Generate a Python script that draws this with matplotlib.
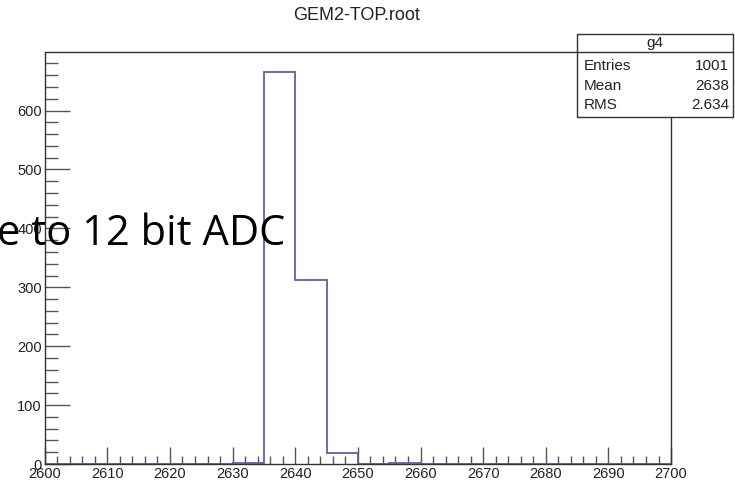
import numpy as np
import matplotlib.pyplot as plt
from matplotlib.patches import Rectangle
from matplotlib.ticker import MultipleLocator

# histogram g4, 5-unit bins between 2630 and 2660
bin_edges = [2630, 2635, 2640, 2645, 2650, 2655, 2660]
counts = [2, 666, 313, 19, 0, 1]

stat_names = ['Entries', 'Mean', 'RMS']
stat_values = ['1001', '2638', '2.634']

root_font = ['Liberation Sans Narrow', 'Liberation Sans', 'DejaVu Sans']
line_col = '#5f5fa8'

fig = plt.figure(figsize=(7.35, 4.82), dpi=100)
ax = fig.add_axes([0.0608, 0.0373, 0.913 - 0.0608, 0.892 - 0.0373])

ax.stairs(counts, bin_edges, color=line_col, linewidth=1.3, zorder=2)
# the rest of the range is empty
ax.plot([2600, 2630], [0, 0], color=line_col, linewidth=1.3)
ax.plot([2660, 2700], [0, 0], color=line_col, linewidth=1.3)

ax.set_xlim(2600, 2700)
ax.set_ylim(0, max(counts) * 1.05)

ax.xaxis.set_major_locator(MultipleLocator(10))
ax.xaxis.set_minor_locator(MultipleLocator(2))
ax.yaxis.set_major_locator(MultipleLocator(100))
ax.yaxis.set_minor_locator(MultipleLocator(20))
ax.tick_params(which='both', direction='in', color='#555555', width=1)
ax.tick_params(axis='x', which='major', length=12, pad=2)
ax.tick_params(axis='x', which='minor', length=6)
ax.tick_params(axis='y', which='major', length=18, pad=2)
ax.tick_params(axis='y', which='minor', length=9)
for lab in ax.get_xticklabels() + ax.get_yticklabels():
    lab.set_family(root_font)
    lab.set_fontsize(10.5)
    lab.set_color('#222222')
for sp in ax.spines.values():
    sp.set_color('#333333')
    sp.set_linewidth(1)

fig.text(0.485, 0.967, 'GEM2-TOP.root', ha='center', va='center',
         family=root_font, fontsize=13, color='#222222')

# stats box
W, H = 735, 482
bx0, bx1, by0, by1, bsep = 577, 733, 34, 117, 52
fig.add_artist(Rectangle((bx0 / W, 1 - by1 / H), (bx1 - bx0) / W, (by1 - by0) / H,
                         transform=fig.transFigure, facecolor='white',
                         edgecolor='#333333', linewidth=1, zorder=5))
fig.add_artist(plt.Line2D([bx0 / W, bx1 / W], [1 - bsep / H, 1 - bsep / H],
                          transform=fig.transFigure, color='#333333', linewidth=1, zorder=6))
fig.text((bx0 + bx1) / 2 / W, 1 - 43 / H, 'g4', ha='center', va='center',
         family=root_font, fontsize=11, color='#222222', zorder=7)
for i, (nm, val) in enumerate(zip(stat_names, stat_values)):
    yy = 1 - (66 + i * 19.5) / H
    fig.text((bx0 + 7) / W, yy, nm, ha='left', va='center',
             family=root_font, fontsize=11, color='#222222', zorder=7)
    fig.text((bx1 - 4) / W, yy, val, ha='right', va='center',
             family=root_font, fontsize=11, color='#222222', zorder=7)

# slide overlay text
fig.text(-0.004, 1 - 245 / H, 'e to 12 bit ADC', ha='left', va='baseline',
         family=['Open Sans', 'DejaVu Sans'], fontsize=30, color='black', zorder=10)

fig.savefig('out.png', dpi=100)
